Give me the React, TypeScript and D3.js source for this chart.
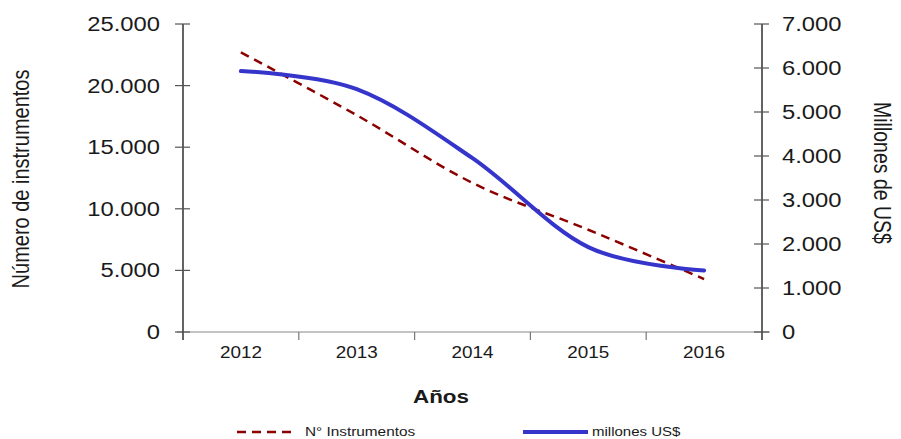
import React from "react";
import * as d3 from "d3";

const years = ["2012", "2013", "2014", "2015", "2016"];
const instrumentos = [22700, 17600, 12100, 8300, 4300];
const millones = [5930, 5520, 3950, 1930, 1400];
const leftTicks = [0, 5000, 10000, 15000, 20000, 25000];
const rightTicks = [0, 1000, 2000, 3000, 4000, 5000, 6000, 7000];

const W = 901, H = 439;
const M = { left: 183, right: 762, top: 24, bottom: 332 };
const FONT = "'Liberation Sans', Arial, sans-serif";
const fmt = (v: number) => (v === 0 ? "0" : d3.format(",")(v).replace(/,/g, "."));

export default function App() {
  const x = d3.scaleBand<string>().domain(years).range([M.left, M.right]);
  const yL = d3.scaleLinear().domain([0, 25000]).range([M.bottom, M.top]);
  const yR = d3.scaleLinear().domain([0, 7000]).range([M.bottom, M.top]);
  const cx = (y: string) => (x(y) as number) + x.bandwidth() / 2;

  const lineL = d3.line<number>().x((_, i) => cx(years[i])).y((d) => yL(d)).curve(d3.curveCardinal.tension(0));
  const lineR = d3.line<number>().x((_, i) => cx(years[i])).y((d) => yR(d)).curve(d3.curveCardinal.tension(0));

  const T = (props: { x: number; y: number; anchor?: string; size: number; weight?: string; rot?: number; sx?: number; children: React.ReactNode; fill?: string }) => (
    <text
      transform={`translate(${props.x},${props.y}) scale(${props.sx ?? 1.18},1)${props.rot ? ` rotate(${props.rot})` : ""}`}
      textAnchor={props.anchor || "start"}
      fontSize={props.size}
      fontWeight={props.weight || "normal"}
      fontFamily={FONT}
      fill={props.fill || "#1a1a1a"}
    >
      {props.children}
    </text>
  );

  return (
    <svg width={W} height={H} style={{ position: "absolute", left: 0, top: 0, background: "#fff" }}>
      {/* axes */}
      <line x1={M.left - 6} x2={M.right + 8} y1={M.bottom} y2={M.bottom} stroke="#888" strokeWidth={1.2} />
      <line x1={M.left} x2={M.left} y1={M.top} y2={M.bottom + 8} stroke="#222" strokeWidth={1.4} />
      <line x1={M.right} x2={M.right} y1={M.top} y2={M.bottom + 8} stroke="#222" strokeWidth={1.4} />
      {leftTicks.map((t) => (
        <g key={"l" + t}>
          <line x1={M.left - 8} x2={M.left + 7} y1={yL(t)} y2={yL(t)} stroke="#555" strokeWidth={1.2} />
          <T x={160} y={yL(t) + 7} anchor="end" size={19.5} sx={1.22}>{fmt(t)}</T>
        </g>
      ))}
      {rightTicks.map((t) => (
        <g key={"r" + t}>
          <line x1={M.right - 8} x2={M.right + 7} y1={yR(t)} y2={yR(t)} stroke="#555" strokeWidth={1.2} />
          <T x={782} y={yR(t) + 7} size={19.5} sx={1.22}>{fmt(t)}</T>
        </g>
      ))}
      {years.map((yv, i) => (
        <g key={yv}>
          {i > 0 && <line x1={x(yv)} x2={x(yv)} y1={M.bottom} y2={M.bottom + 8} stroke="#777" strokeWidth={1.2} />}
          <T x={cx(yv)} y={358} anchor="middle" size={16}>{yv}</T>
        </g>
      ))}
      {/* titles */}
      <T x={441} y={403} anchor="middle" size={19} weight="bold">Años</T>
      <T x={29} y={179} anchor="middle" size={20} rot={-90}>Número de instrumentos</T>
      <T x={874} y={173} anchor="middle" size={19.5} rot={90}>Millones de US$</T>
      {/* lines */}
      <path d={lineL(instrumentos) || ""} fill="none" stroke="#8B0000" strokeWidth={2.5} strokeDasharray="9,6" />
      <path d={lineR(millones) || ""} fill="none" stroke="#3535CC" strokeWidth={4} strokeLinecap="round" />
      {/* legend */}
      <line x1={237} x2={296} y1={432} y2={432} stroke="#8B0000" strokeWidth={2.5} strokeDasharray="9,6" />
      <T x={305} y={436} size={12} sx={1.28}>N° Instrumentos</T>
      <line x1={523} x2={588} y1={432} y2={432} stroke="#3535CC" strokeWidth={4} />
      <T x={592} y={436} size={12} sx={1.25}>millones US$</T>
    </svg>
  );
}
